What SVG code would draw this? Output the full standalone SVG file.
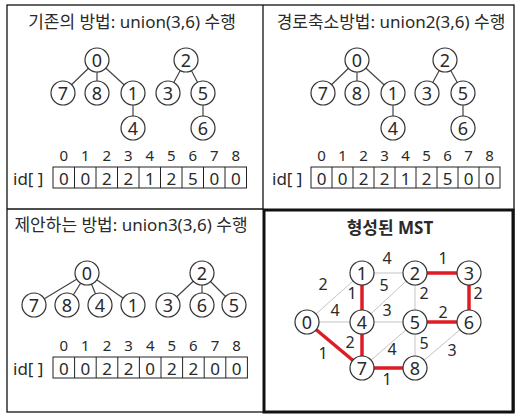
<svg xmlns="http://www.w3.org/2000/svg" width="516" height="414" viewBox="0 0 516 414">
<style>
text{font-family:"Noto Sans","Noto Sans CJK KR",sans-serif;fill:#2a2a2a;}
.t{font-size:17px;text-anchor:middle;}
.n circle{fill:#fff;stroke:#333;stroke-width:1.2;}
.n text{font-size:18px;text-anchor:middle;}
.e line{stroke:#444;stroke-width:1.2;}
.g line{stroke:#c4c4c4;stroke-width:1;}
.r line{stroke:#dd1c24;stroke-width:3.5;}
.cell{fill:none;stroke:#222;stroke-width:1;}
.idx{font-size:15px;text-anchor:middle;}
.val{font-size:17px;text-anchor:middle;}
.lbl{font-size:17px;}
.w{font-size:16px;text-anchor:middle;}
</style>
<rect width="516" height="414" fill="#fff"/>
<!-- frame -->
<g id="frame" fill="none" stroke="#111">
<rect x="7" y="5" width="507" height="407" stroke-width="1.3"/>
<line x1="263" y1="5" x2="263" y2="209" stroke-width="1.3"/>
<line x1="7" y1="209" x2="263" y2="209" stroke-width="1.3"/>
<rect x="264" y="210" width="249" height="202" stroke-width="3"/>
</g>

<!-- Panel 1 -->
<g id="panel1">
<text class="t" x="132" y="28">기존의 방법: union(3,6) 수행</text>
<g class="e">
<line x1="97" y1="60" x2="63" y2="93"/><line x1="97" y1="60" x2="97" y2="93"/><line x1="97" y1="60" x2="133" y2="93"/>
<line x1="133" y1="93" x2="133" y2="128"/>
<line x1="186" y1="60" x2="168" y2="93"/><line x1="186" y1="60" x2="203" y2="93"/><line x1="203" y1="93" x2="203" y2="128"/>
</g>
<g class="n" id="p1n0"><circle cx="97" cy="60" r="12"/><text x="97" y="66.5">0</text></g>
<g class="n" id="p1n7"><circle cx="63" cy="93" r="12"/><text x="63" y="99.5">7</text></g>
<g class="n" id="p1n8"><circle cx="97" cy="93" r="12"/><text x="97" y="99.5">8</text></g>
<g class="n" id="p1n1"><circle cx="133" cy="93" r="12"/><text x="133" y="99.5">1</text></g>
<g class="n" id="p1n4"><circle cx="133" cy="128" r="12"/><text x="133" y="134.5">4</text></g>
<g class="n" id="p1n2"><circle cx="186" cy="60" r="12"/><text x="186" y="66.5">2</text></g>
<g class="n" id="p1n3"><circle cx="168" cy="93" r="12"/><text x="168" y="99.5">3</text></g>
<g class="n" id="p1n5"><circle cx="203" cy="93" r="12"/><text x="203" y="99.5">5</text></g>
<g class="n" id="p1n6"><circle cx="203" cy="128" r="12"/><text x="203" y="134.5">6</text></g>
<text class="lbl" x="13" y="185">id[ ]</text>
<g id="p1arr">
<rect class="cell" x="53" y="167" width="193.5" height="21"/>
<path d="M74.5 167v21M96 167v21M117.5 167v21M139 167v21M160.5 167v21M182 167v21M203.5 167v21M225 167v21" stroke="#222" stroke-width="1"/>
<text class="idx" y="161"><tspan x="63.75">0</tspan><tspan x="85.25">1</tspan><tspan x="106.75">2</tspan><tspan x="128.25">3</tspan><tspan x="149.75">4</tspan><tspan x="171.25">5</tspan><tspan x="192.75">6</tspan><tspan x="214.25">7</tspan><tspan x="235.75">8</tspan></text>
<text class="val" y="184.5"><tspan x="63.75">0</tspan><tspan x="85.25">0</tspan><tspan x="106.75">2</tspan><tspan x="128.25">2</tspan><tspan x="149.75">1</tspan><tspan x="171.25">2</tspan><tspan x="192.75">5</tspan><tspan x="214.25">0</tspan><tspan x="235.75">0</tspan></text>
</g>
</g>

<!-- Panel 2 -->
<g id="panel2">
<text class="t" x="391" y="28">경로축소방법: union2(3,6) 수행</text>
<g class="e">
<line x1="357" y1="60" x2="323" y2="93"/><line x1="357" y1="60" x2="357" y2="93"/><line x1="357" y1="60" x2="393" y2="93"/>
<line x1="393" y1="93" x2="393" y2="128"/>
<line x1="445" y1="60" x2="427" y2="93"/><line x1="445" y1="60" x2="463" y2="93"/><line x1="463" y1="93" x2="463" y2="128"/>
</g>
<g class="n" id="p2n0"><circle cx="357" cy="60" r="12"/><text x="357" y="66.5">0</text></g>
<g class="n" id="p2n7"><circle cx="323" cy="93" r="12"/><text x="323" y="99.5">7</text></g>
<g class="n" id="p2n8"><circle cx="357" cy="93" r="12"/><text x="357" y="99.5">8</text></g>
<g class="n" id="p2n1"><circle cx="393" cy="93" r="12"/><text x="393" y="99.5">1</text></g>
<g class="n" id="p2n4"><circle cx="393" cy="128" r="12"/><text x="393" y="134.5">4</text></g>
<g class="n" id="p2n2"><circle cx="445" cy="60" r="12"/><text x="445" y="66.5">2</text></g>
<g class="n" id="p2n3"><circle cx="427" cy="93" r="12"/><text x="427" y="99.5">3</text></g>
<g class="n" id="p2n5"><circle cx="463" cy="93" r="12"/><text x="463" y="99.5">5</text></g>
<g class="n" id="p2n6"><circle cx="463" cy="128" r="12"/><text x="463" y="134.5">6</text></g>
<text class="lbl" x="272" y="185">id[ ]</text>
<g id="p2arr">
<rect class="cell" x="311" y="167" width="189" height="21"/>
<path d="M332 167v21M353 167v21M374 167v21M395 167v21M416 167v21M437 167v21M458 167v21M479 167v21" stroke="#222" stroke-width="1"/>
<text class="idx" y="161"><tspan x="321.5">0</tspan><tspan x="342.5">1</tspan><tspan x="363.5">2</tspan><tspan x="384.5">3</tspan><tspan x="405.5">4</tspan><tspan x="426.5">5</tspan><tspan x="447.5">6</tspan><tspan x="468.5">7</tspan><tspan x="489.5">8</tspan></text>
<text class="val" y="184.5"><tspan x="321.5">0</tspan><tspan x="342.5">0</tspan><tspan x="363.5">2</tspan><tspan x="384.5">2</tspan><tspan x="405.5">1</tspan><tspan x="426.5">2</tspan><tspan x="447.5">5</tspan><tspan x="468.5">0</tspan><tspan x="489.5">0</tspan></text>
</g>
</g>

<!-- Panel 3 -->
<g id="panel3">
<text class="t" x="131" y="231">제안하는 방법: union3(3,6) 수행</text>
<g class="e">
<line x1="87" y1="273" x2="34" y2="305"/><line x1="87" y1="273" x2="67" y2="305"/><line x1="87" y1="273" x2="100" y2="305"/><line x1="87" y1="273" x2="133" y2="305"/>
<line x1="202" y1="273" x2="168" y2="305"/><line x1="202" y1="273" x2="202" y2="305"/><line x1="202" y1="273" x2="234" y2="305"/>
</g>
<g class="n" id="p3n0"><circle cx="87" cy="273" r="12"/><text x="87" y="279.5">0</text></g>
<g class="n" id="p3n7"><circle cx="34" cy="305" r="12"/><text x="34" y="311.5">7</text></g>
<g class="n" id="p3n8"><circle cx="67" cy="305" r="12"/><text x="67" y="311.5">8</text></g>
<g class="n" id="p3n4"><circle cx="100" cy="305" r="12"/><text x="100" y="311.5">4</text></g>
<g class="n" id="p3n1"><circle cx="133" cy="305" r="12"/><text x="133" y="311.5">1</text></g>
<g class="n" id="p3n2"><circle cx="202" cy="273" r="12"/><text x="202" y="279.5">2</text></g>
<g class="n" id="p3n3"><circle cx="168" cy="305" r="12"/><text x="168" y="311.5">3</text></g>
<g class="n" id="p3n6"><circle cx="202" cy="305" r="12"/><text x="202" y="311.5">6</text></g>
<g class="n" id="p3n5"><circle cx="234" cy="305" r="12"/><text x="234" y="311.5">5</text></g>
<text class="lbl" x="13" y="375">id[ ]</text>
<g id="p3arr">
<rect class="cell" x="53" y="357" width="194.4" height="21"/>
<path d="M74.6 357v21M96.2 357v21M117.8 357v21M139.4 357v21M161 357v21M182.6 357v21M204.2 357v21M225.8 357v21" stroke="#222" stroke-width="1"/>
<text class="idx" y="351"><tspan x="63.8">0</tspan><tspan x="85.4">1</tspan><tspan x="107">2</tspan><tspan x="128.6">3</tspan><tspan x="150.2">4</tspan><tspan x="171.8">5</tspan><tspan x="193.4">6</tspan><tspan x="215">7</tspan><tspan x="236.6">8</tspan></text>
<text class="val" y="374.5"><tspan x="63.8">0</tspan><tspan x="85.4">0</tspan><tspan x="107">2</tspan><tspan x="128.6">2</tspan><tspan x="150.2">0</tspan><tspan x="171.8">2</tspan><tspan x="193.4">2</tspan><tspan x="215">0</tspan><tspan x="236.6">0</tspan></text>
</g>
</g>

<!-- Panel 4: MST -->
<g id="panel4">
<text x="390" y="234" style="font-size:17px;font-weight:bold;text-anchor:middle;">형성된 MST</text>
<g id="connectors">
<g class="g">
<line x1="307" y1="322" x2="362" y2="273"/>
<line x1="307" y1="322" x2="362" y2="322"/>
<line x1="362" y1="273" x2="415" y2="273"/>
<line x1="362" y1="322" x2="415" y2="273"/>
<line x1="362" y1="322" x2="415" y2="322"/>
<line x1="415" y1="273" x2="415" y2="322"/>
<line x1="362" y1="368" x2="415" y2="322"/>
<line x1="415" y1="322" x2="415" y2="368"/>
<line x1="415" y1="368" x2="469" y2="322"/>
</g>
<g class="r">
<line x1="362" y1="273" x2="362" y2="322"/>
<line x1="362" y1="322" x2="362" y2="368"/>
<line x1="307" y1="322" x2="362" y2="368"/>
<line x1="362" y1="368" x2="415" y2="368"/>
<line x1="415" y1="273" x2="469" y2="273"/>
<line x1="469" y1="273" x2="469" y2="322"/>
<line x1="415" y1="322" x2="469" y2="322"/>
</g>
<g id="weights">
<text class="w" x="387" y="264">4</text>
<text class="w" x="443" y="264">1</text>
<text class="w" x="323" y="290">2</text>
<text class="w" x="352" y="299">1</text>
<text class="w" x="384" y="291">5</text>
<text class="w" x="424" y="299">2</text>
<text class="w" x="478" y="299">2</text>
<text class="w" x="335" y="316">4</text>
<text class="w" x="387" y="316">3</text>
<text class="w" x="443" y="318">2</text>
<text class="w" x="350" y="348">2</text>
<text class="w" x="392" y="355">4</text>
<text class="w" x="424" y="349">5</text>
<text class="w" x="452" y="356">3</text>
<text class="w" x="323" y="359">1</text>
<text class="w" x="387" y="385">1</text>
</g>
</g>
<g class="n" id="m0"><circle cx="307" cy="322" r="12"/><text x="307" y="328.5">0</text></g>
<g class="n" id="m1"><circle cx="362" cy="273" r="12"/><text x="362" y="279.5">1</text></g>
<g class="n" id="m2"><circle cx="415" cy="273" r="12"/><text x="415" y="279.5">2</text></g>
<g class="n" id="m3"><circle cx="469" cy="273" r="12"/><text x="469" y="279.5">3</text></g>
<g class="n" id="m4"><circle cx="362" cy="322" r="12"/><text x="362" y="328.5">4</text></g>
<g class="n" id="m5"><circle cx="415" cy="322" r="12"/><text x="415" y="328.5">5</text></g>
<g class="n" id="m6"><circle cx="469" cy="322" r="12"/><text x="469" y="328.5">6</text></g>
<g class="n" id="m7"><circle cx="362" cy="368" r="12"/><text x="362" y="374.5">7</text></g>
<g class="n" id="m8"><circle cx="415" cy="368" r="12"/><text x="415" y="374.5">8</text></g>
</g>
</svg>
